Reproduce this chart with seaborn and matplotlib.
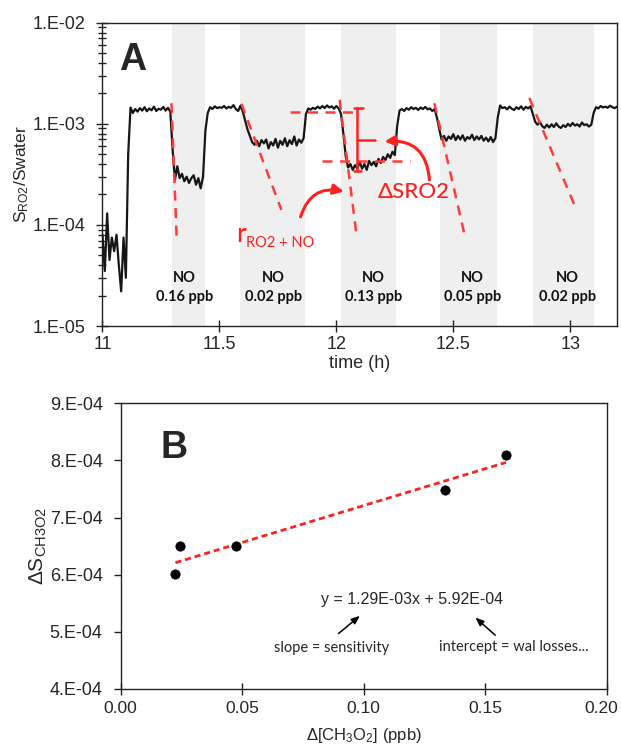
import numpy as np
import pandas as pd
import seaborn as sns
import matplotlib.pyplot as plt
from matplotlib.ticker import LogLocator, NullFormatter
from matplotlib.transforms import ScaledTranslation

#===============================================================================
#     Data  -  panel A (signal ratio, units of 1E-04, one value every 0.01 h from 11.00 h)
#===============================================================================
t_start = 11.0
t_step = 0.01
ratio_e4 = [
    0.8, 0.35, 1.3, 0.45, 0.75, 0.55, 0.8, 0.4, 0.22, 0.75,        # 11.0x
    0.3, 5.0, 14.5, 12.8, 14.0, 13.2, 14.3, 13.5, 14.6, 13.3,      # 11.1x
    14.2, 13.6, 14.8, 13.4, 14.1, 13.8, 14.7, 13.5, 14.4, 13.2,    # 11.2x
    5.5, 2.8, 3.8, 2.9, 3.2, 2.7, 3.0, 2.6, 2.9, 3.1,              # 11.3x
    2.5, 2.9, 2.3, 3.0, 8.5, 12.8, 14.6, 14.0, 14.9, 14.3,         # 11.4x
    14.6, 14.4, 15.0, 14.2, 14.7, 14.4, 15.3, 14.0, 13.4, 15.1,    # 11.5x
    13.2, 10.8, 8.8, 7.6, 6.6, 6.2, 6.8, 6.0, 6.9, 6.4,            # 11.6x
    7.0, 5.7, 6.6, 6.1, 7.1, 5.8, 6.8, 6.2, 7.2, 6.0,              # 11.7x
    6.9, 6.3, 7.5, 6.1, 7.0, 6.5, 7.2, 12.5, 14.2, 13.8,           # 11.8x
    14.4, 14.0, 14.8, 14.2, 15.0, 14.3, 15.2, 14.5, 14.9, 14.1,    # 11.9x
    15.0, 14.2, 12.5, 8.0, 4.8, 3.7, 4.0, 3.5, 3.9, 3.6,           # 12.0x
    4.2, 3.6, 4.0, 3.5, 4.3, 3.9, 4.2, 3.8, 4.5, 4.1,              # 12.1x
    4.7, 4.4, 5.0, 4.6, 5.3, 4.9, 9.5, 13.5, 14.0, 13.4,           # 12.2x
    14.3, 13.8, 14.6, 14.0, 14.4, 13.7, 14.5, 14.0, 14.7, 13.9,    # 12.3x
    14.2, 13.4, 14.0, 11.5, 8.8, 7.0, 7.6, 6.8, 7.5, 7.1,          # 12.4x
    7.9, 6.9, 7.6, 7.0, 7.7, 6.8, 7.4, 7.1, 7.8, 6.9,              # 12.5x
    7.5, 7.0, 7.6, 6.8, 7.3, 6.7, 7.4, 6.6, 7.2, 11.5,             # 12.6x
    15.2, 14.3, 14.6, 13.9, 14.8, 14.1, 13.7, 14.6, 14.0, 14.9,    # 12.7x
    13.8, 14.7, 14.2, 14.9, 12.5, 10.5, 9.8, 10.4, 9.5, 9.1,       # 12.8x
    9.8, 9.2, 9.9, 9.3, 10.1, 9.4, 9.1, 9.7, 9.3, 10.0,            # 12.9x
    9.5, 10.2, 9.6, 9.9, 9.4, 10.3, 9.7, 9.9, 9.4, 9.8,            # 13.0x
    12.8, 14.6, 14.2, 15.0, 14.5, 14.8, 14.4, 15.1, 14.6, 14.3,    # 13.1x
    14.8,                                                          # 13.2
]

no_band_start = [11.298, 11.590, 12.021, 12.445, 12.839]
no_band_end = [11.437, 11.864, 12.253, 12.687, 13.102]
no_labels = ["NO\n0.16 ppb", "NO\n0.02 ppb", "NO\n0.13 ppb", "NO\n0.05 ppb", "NO\n0.02 ppb"]
no_label_t = [11.352, 11.731, 12.159, 12.583, 12.989]

# red dashed initial-slope guides: (t0, y0, t1, y1)
slope_guides = [
    (11.295, 1.6e-3, 11.317, 7.7e-5),
    (11.594, 1.58e-3, 11.765, 1.41e-4),
    (12.014, 1.73e-3, 12.085, 8.3e-5),
    (12.419, 1.6e-3, 12.547, 8.2e-5),
    (12.825, 1.8e-3, 13.024, 1.46e-4),
]
# delta SRO2 construction at the 0.13 ppb step
dS_high, dS_low, dS_mid = 1.44e-3, 3.43e-4, 6.95e-4
dS_level_high = (11.80, 12.07, 1.30e-3)
dS_level_low = (11.94, 12.314, 4.24e-4)

a_yticks = [1e-5, 1e-4, 1e-3, 1e-2]
a_yticklabels = ["1.E-05", "1.E-04", "1.E-03", "1.E-02"]
a_xticks = [11, 11.5, 12, 12.5, 13]
a_xticklabels = ["11", "11.5", "12", "12.5", "13"]

#===============================================================================
#     Data  -  panel B (calibration)
#===============================================================================
d_ch3o2 = [0.0225, 0.0244, 0.0474, 0.1336, 0.1585]
d_signal = [6.01e-4, 6.51e-4, 6.50e-4, 7.49e-4, 8.10e-4]
fit_slope = 1.29e-3
fit_intercept = 5.92e-4
fit_x = [0.0225, 0.1585]

b_yticks = [4e-4, 5e-4, 6e-4, 7e-4, 8e-4, 9e-4]
b_yticklabels = ["4.E-04", "5.E-04", "6.E-04", "7.E-04", "8.E-04", "9.E-04"]
b_xticks = [0.0, 0.05, 0.10, 0.15, 0.20]
b_xticklabels = ["0.00", "0.05", "0.10", "0.15", "0.20"]

#===============================================================================
sns.set_style("ticks")
plt.rcParams['font.family'] = ['Liberation Sans', 'DejaVu Sans']
plt.rcParams['mathtext.default'] = 'regular'
CAL = ['Lato', 'DejaVu Sans']
RED = '#ff2020'
DRED = '#ff3c3c'

fig = plt.figure(figsize=(6.21, 7.45), dpi=100)
axA = fig.add_axes([0.1650, 0.5624, 0.8286, 0.4071])
axB = fig.add_axes([0.1944, 0.0752, 0.7828, 0.3835])

# ---------------- panel A
times = np.round(t_start + t_step * np.arange(len(ratio_e4)), 2)
dfA = pd.DataFrame({"time": times, "ratio": np.array(ratio_e4) * 1e-4})

for s, e in zip(no_band_start, no_band_end):
    axA.axvspan(s, e, color='#efefef', lw=0, zorder=0)

sns.lineplot(data=dfA, x="time", y="ratio", ax=axA, color='#161616', lw=1.6, zorder=3)
axA.set_yscale('log')
axA.set_xlim(11, 13.2)
axA.set_ylim(1e-5, 1e-2)

for (t0, y0, t1, y1) in slope_guides:
    axA.plot([t0, t1], [y0, y1], color=DRED, lw=1.8, ls=(0, (4, 3)), zorder=4)

axA.plot(dS_level_high[:2], [dS_level_high[2]] * 2, color=DRED, lw=1.8, ls=(0, (4, 3)), zorder=4)
axA.plot(dS_level_low[:2], [dS_level_low[2]] * 2, color=DRED, lw=1.8, ls=(0, (4, 3)), zorder=4)
# bracket
axA.plot([12.09, 12.09], [dS_low, dS_high], color=RED, lw=1.8, zorder=5)
axA.plot([12.076, 12.112], [dS_high, dS_high], color=RED, lw=1.8, zorder=5)
axA.plot([12.076, 12.105], [dS_low, dS_low], color=RED, lw=1.8, zorder=5)
axA.plot([12.09, 12.165], [dS_mid, dS_mid], color=RED, lw=1.8, zorder=5)

for lab, t in zip(no_labels, no_label_t):
    axA.text(t, 2.43e-5, lab, ha='center', va='center', multialignment='center',
             fontsize=10.5, fontweight='bold', family=CAL, linespacing=1.45, color='#111')

axA.text(12.333, 2.1e-4, "\u0394SRO2", ha='center', va='center', fontsize=16,
         family=CAL, color=RED, fontweight='medium')
axA.text(11.570, 6.8e-5, "r", ha='left', va='baseline', fontsize=19, family=CAL, color=RED)
axA.text(11.613, 6.05e-5, "RO2 + NO", ha='left', va='baseline', fontsize=10.5, family=CAL, color=RED)

axA.annotate("", xy=(12.032, 2.14e-4), xytext=(11.847, 1.2e-4),
             arrowprops=dict(arrowstyle='-|>,head_length=0.6,head_width=0.3', color=RED, lw=2.2,
                             connectionstyle='arc3,rad=-0.45', shrinkA=0, shrinkB=0))
axA.annotate("", xy=(12.206, 6.68e-4), xytext=(12.398, 2.79e-4),
             arrowprops=dict(arrowstyle='-|>,head_length=0.6,head_width=0.3', color=RED, lw=2.2,
                             connectionstyle='arc3,rad=0.5', shrinkA=0, shrinkB=0))

axA.text(0.033, 0.844, "A", transform=axA.transAxes, fontsize=27, fontweight='bold',
         ha='left', va='baseline')

axA.set_yticks(a_yticks)
axA.set_yticklabels(a_yticklabels)
axA.yaxis.set_minor_locator(LogLocator(base=10, subs=np.arange(2, 10)))
axA.yaxis.set_minor_formatter(NullFormatter())
axA.set_xticks(a_xticks)
axA.set_xticklabels(a_xticklabels)
axA.tick_params(axis='both', which='major', direction='inout', length=9, width=1,
                labelsize=13, color='#222')
axA.tick_params(axis='y', which='major', pad=8)
axA.tick_params(axis='x', which='major', pad=3)
axA.tick_params(axis='y', which='minor', direction='inout', length=6, width=1, color='#222')
axA.set_xlabel("time (h)", fontsize=13)
axA.set_ylabel("S$_{RO2}$/Swater", fontsize=12.5)
axA.xaxis.set_label_coords(0.5, -0.095)
axA.yaxis.set_label_coords(-0.139, 0.5)

# ---------------- panel B
dfB = pd.DataFrame({"dch3o2": d_ch3o2, "dS": d_signal})
sns.scatterplot(data=dfB, x="dch3o2", y="dS", ax=axB, color='black', s=45,
                edgecolor='black', zorder=4)
fx = np.array(fit_x)
axB.plot(fx, fit_slope * fx + fit_intercept, color=RED, lw=2, ls=(0, (2.2, 1.4)), zorder=3)

axB.set_xlim(0, 0.2)
axB.set_ylim(4e-4, 9e-4)
axB.set_xticks(b_xticks)
axB.set_xticklabels(b_xticklabels)
axB.set_yticks(b_yticks)
axB.set_yticklabels(b_yticklabels)
axB.tick_params(axis='y', direction='out', length=5, width=1, labelsize=13, pad=8, color='#222')
axB.tick_params(axis='x', direction='inout', length=9, width=1, labelsize=12.5, pad=4, color='#222')
# keep the last x label inside the figure edge
last_lbl = axB.get_xticklabels()[-1]
last_lbl.set_transform(last_lbl.get_transform() + ScaledTranslation(-4 / 72, 0, fig.dpi_scale_trans))

axB.text(0.1198, 5.56e-4, "y = 1.29E-03x + 5.92E-04", ha='center', va='center', fontsize=11.5)
axB.text(0.0866, 4.71e-4, "slope = sensitivity", ha='center', va='center', fontsize=10.5, family=CAL)
axB.text(0.1618, 4.74e-4, "intercept = wal losses...", ha='center', va='center', fontsize=10.5, family=CAL)
axB.annotate("", xy=(0.0984, 5.28e-4), xytext=(0.0896, 4.97e-4),
             arrowprops=dict(arrowstyle='-|>,head_length=0.5,head_width=0.2', color='black', lw=1.1,
                             shrinkA=0, shrinkB=0))
axB.annotate("", xy=(0.1459, 5.25e-4), xytext=(0.1541, 4.94e-4),
             arrowprops=dict(arrowstyle='-|>,head_length=0.5,head_width=0.2', color='black', lw=1.1,
                             shrinkA=0, shrinkB=0))

axB.text(0.082, 0.809, "B", transform=axB.transAxes, fontsize=27, fontweight='bold',
         ha='left', va='baseline')
axB.set_xlabel("\u0394[CH$_3$O$_2$] (ppb)", fontsize=12)
axB.set_ylabel("\u0394S$_{CH3O2}$", fontsize=15)
axB.xaxis.set_label_coords(0.5, -0.13)
axB.yaxis.set_label_coords(-0.148, 0.5)

for ax in (axA, axB):
    for sp in ax.spines.values():
        sp.set_visible(True)
        sp.set_color('#222')
        sp.set_linewidth(1)

fig.savefig("out.png", dpi=100)
